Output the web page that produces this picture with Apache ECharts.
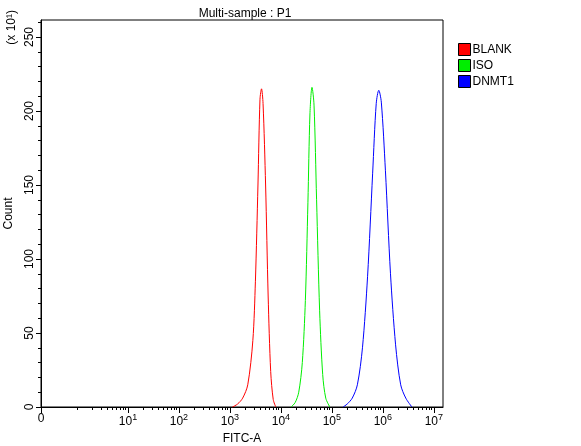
<!DOCTYPE html>
<html><head><meta charset="utf-8">
<script src="https://cdn.jsdelivr.net/npm/echarts@6/dist/echarts.min.js"></script>
<style>html,body{margin:0;padding:0;background:#fff}#c{width:581px;height:446px}</style>
</head><body><div id="c"></div>
<script>
// x positions are log10 of FITC-A (decades); 0 is drawn at -0.706
const seriesNames = ['BLANK', 'ISO', 'DNMT1'];
const seriesColors = ['#ff0000', '#00ee00', '#0000ff'];
const blankX = [3.05,3.15,3.25,3.35,3.45,3.50,3.55,3.59,3.62,3.65,3.70,3.75,3.80,3.85,3.90];
const blankY = [0,2,6,15,45,85,150,208,215,205,150,75,24,5,0];
const isoX = [4.20,4.28,4.35,4.42,4.48,4.53,4.57,4.61,4.65,4.70,4.76,4.82,4.88,4.96];
const isoY = [0,3,10,30,72,138,198,216,204,140,65,22,6,0];
const dnmtX = [5.22,5.30,5.40,5.50,5.60,5.70,5.80,5.87,5.92,5.97,6.05,6.15,6.25,6.35,6.45,6.57];
const dnmtY = [0,2,6,15,40,88,158,205,214,206,160,90,42,15,6,0];
const xTickValues = [-0.706,1,2,3,4,5,6,7];
const xTickLabels = ['0','1','2','3','4','5','6','7'];
const yTicks = [0,50,100,150,200,250];

const minor = [];
[0,1,2,3,4,5,6].forEach(d=>{for(let k=(d===0?1:2);k<=9;k++){minor.push(d+Math.log10(k));}});
minor.push(7.301,7.477);
const pairs = (xs,ys)=>xs.map((x,i)=>[x,ys[i]]);
const data = [pairs(blankX,blankY), pairs(isoX,isoY), pairs(dnmtX,dnmtY)];
const FONT = 'Liberation Sans';
const chart = echarts.init(document.getElementById('c'));
chart.setOption({
  animation:false,
  title:{text:'Multi-sample : P1', left:240, top:3, textAlign:'center',
    textStyle:{fontFamily:FONT,fontSize:12,fontWeight:'normal',color:'#000'}},
  legend:{orient:'vertical', left:453, top:38, itemGap:3, itemWidth:12, itemHeight:12, icon:'rect',
    data:seriesNames, textStyle:{fontFamily:FONT,fontSize:12,color:'#000',padding:[0,0,0,-3]},
    itemStyle:{borderColor:'#000',borderWidth:1}},
  grid:{left:41, right:138, top:20, bottom:39, outerBoundsMode:'none', containLabel:false, show:true, borderColor:'#000', borderWidth:1},
  xAxis:[{type:'value', min:-0.706, max:7.18, name:'FITC-A', nameLocation:'middle', nameGap:24,
    nameTextStyle:{fontFamily:FONT,fontSize:12,color:'#000'},
    splitLine:{show:false}, axisLine:{onZero:false, lineStyle:{color:'#000'}},
    axisTick:{customValues:xTickValues, length:6, lineStyle:{color:'#000'}},
    axisLabel:{customValues:xTickValues, color:'#000', margin:6,
      formatter:v=>{const i=xTickValues.findIndex(t=>Math.abs(t-v)<1e-6); if(i===0) return '0'; return '{a|10}{b|'+xTickLabels[i]+'}';},
      fontFamily:FONT,fontSize:12,
      rich:{a:{fontFamily:FONT,fontSize:12,color:'#000'},b:{fontFamily:FONT,fontSize:9,color:'#000',verticalAlign:'top',padding:[0,0,8,0]}}}},
   {type:'value', min:-0.706, max:7.18, position:'bottom', offset:0, splitLine:{show:false}, axisLine:{show:false, onZero:false},
    axisTick:{customValues:minor, length:3, lineStyle:{color:'#000'}}, axisLabel:{show:false}}],
  yAxis:{type:'value', min:0, max:261.5, name:'Count', nameLocation:'middle', nameGap:26,
    nameTextStyle:{fontFamily:FONT,fontSize:12,color:'#000'},
    splitLine:{show:false}, axisLine:{onZero:false, lineStyle:{color:'#000'}},
    axisTick:{customValues:yTicks, length:5, lineStyle:{color:'#000'}},
    minorTick:{show:true, splitNumber:5, length:3, lineStyle:{color:'#000'}},
    axisLabel:{customValues:yTicks, rotate:90, color:'#000', fontFamily:FONT, fontSize:12, margin:5, verticalAlign:'bottom'}},
  graphic:[{type:'text', left:6, top:10, rotation:Math.PI/2, style:{text:'(x 10¹)', font:'12px "Liberation Sans"', fill:'#000'}}],
  series:data.map((d,i)=>({name:seriesNames[i], type:'line', data:d, smooth:0.3, showSymbol:false,
    itemStyle:{color:seriesColors[i]}, lineStyle:{color:seriesColors[i], width:1}}))
});
</script></body></html>
